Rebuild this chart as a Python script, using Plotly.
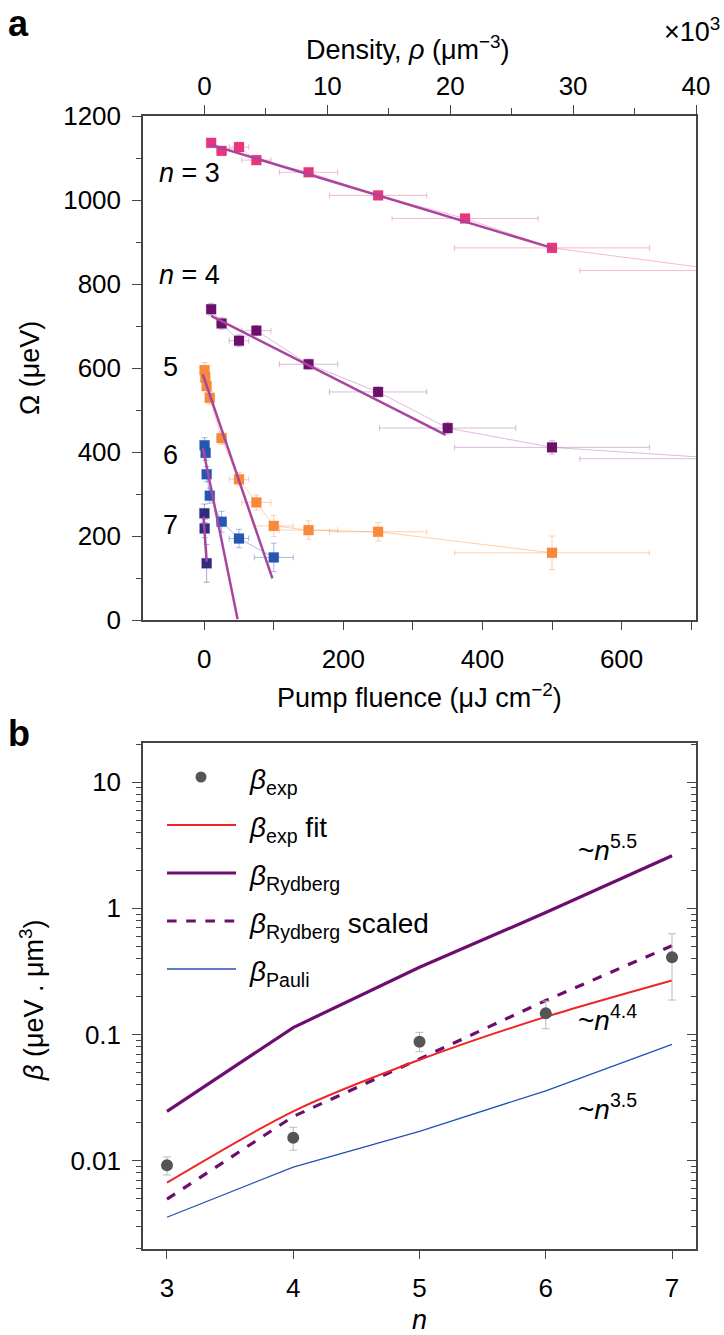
import math
import plotly.graph_objects as go

# ---------------- Panel a data ----------------
n3_fluence = [10, 25, 50, 75, 150, 250, 375, 500, 750]
n3_omega = [1136, 1117, 1126, 1095, 1066, 1011, 956, 886, 832]
n3_xerr = [3, 7, 14, 21, 42, 70, 105, 140, 210]
n3_yerr = [7, 7, 7, 7, 7, 7, 8, 8, 8]

n4_fluence = [10, 25, 50, 75, 150, 250, 350, 500, 750]
n4_omega = [740, 706, 665, 689, 609, 543, 457, 411, 384]
n4_xerr = [3, 7, 14, 21, 42, 70, 98, 140, 210]
n4_yerr = [14, 14, 14, 12, 12, 12, 14, 16, 16]

n5_fluence = [0.5, 1.5, 3.5, 8, 25, 50, 75, 100, 150, 250, 500]
n5_omega = [595, 577, 557, 529, 433, 335, 280, 224, 214, 210, 160]
n5_xerr = [0.2, 0.5, 1, 2.5, 7, 14, 21, 28, 42, 70, 140]
n5_yerr = [18, 15, 15, 15, 15, 16, 18, 25, 22, 22, 40]

n6_fluence = [0.5, 2, 3.5, 8, 25, 50, 100]
n6_omega = [416, 398, 347, 296, 234, 194, 149]
n6_xerr = [0.2, 0.6, 1, 2.5, 7, 14, 28]
n6_yerr = [18, 18, 18, 18, 25, 22, 34]

n7_fluence = [0.3, 0.6, 3.5]
n7_omega = [254, 218, 135]
n7_xerr = [0.1, 0.2, 1]
n7_yerr = [22, 22, 45]

fit3_fluence = [8, 500]
fit3_omega = [1132, 886]
fit4_fluence = [10, 347]
fit4_omega = [724, 441]
fit5_fluence = [-2, 98]
fit5_omega = [585, 99]
fit6_fluence = [-2, 48]
fit6_omega = [410, 2]
fit7_fluence = [-1, 3.5]
fit7_omega = [246, 139]

fluence_major = [0, 200, 400, 600]
fluence_minor = [100, 300, 500, 700]
omega_major = [0, 200, 400, 600, 800, 1000, 1200]
omega_minor = [100, 300, 500, 700, 900, 1100]
density_major = [0, 10, 20, 30, 40]
density_minor = [5, 15, 25, 35]

# ---------------- Panel b data ----------------
n_levels = [3, 4, 5, 6, 7]
beta_exp = [0.0092, 0.0152, 0.0875, 0.147, 0.409]
beta_exp_hi = [0.0107, 0.0184, 0.104, 0.184, 0.628]
beta_exp_lo = [0.0077, 0.0121, 0.073, 0.111, 0.1875]
beta_fit = [0.0067, 0.0246, 0.063, 0.138, 0.268]
beta_rydberg = [0.0246, 0.1135, 0.341, 0.925, 2.61]
beta_rydberg_scaled = [0.00496, 0.0224, 0.064, 0.186, 0.505]
beta_pauli = [0.00356, 0.0089, 0.0171, 0.0358, 0.0834]

beta_major = [0.01, 0.1, 1, 10]
beta_major_text = ["0.01", "0.1", "1", "10"]
beta_minor = [0.002, 0.003, 0.004, 0.005, 0.006, 0.007, 0.008, 0.009,
              0.02, 0.03, 0.04, 0.05, 0.06, 0.07, 0.08, 0.09,
              0.2, 0.3, 0.4, 0.5, 0.6, 0.7, 0.8, 0.9,
              2, 3, 4, 5, 6, 7, 8, 9, 20]

# scaling-law labels: (n position, beta value, text)
scaling_labels = [(6.24, 3.0, "~<i>n</i><sup>5.5</sup>"),
                  (6.24, 0.134, "~<i>n</i><sup>4.4</sup>"),
                  (6.24, 0.0266, "~<i>n</i><sup>3.5</sup>")]

# ---------------- Styles ----------------
FONT = "Liberation Sans, Arial, Helvetica, sans-serif"
W, H = 724, 1335
AX = "#444444"
TICKFONT = dict(family=FONT, size=26, color="black")

def px(x):
    return x / W

def py(y):
    return 1 - y / H

fig = go.Figure()

series = [
    (n3_fluence, n3_omega, n3_xerr, n3_yerr, "#E8357D", "rgba(232,53,125,0.35)", "n = 3"),
    (n4_fluence, n4_omega, n4_xerr, n4_yerr, "#6A0F6A", "rgba(150,60,150,0.35)", "n = 4"),
    (n5_fluence, n5_omega, n5_xerr, n5_yerr, "#F7893B", "rgba(247,137,59,0.40)", "n = 5"),
    (n6_fluence, n6_omega, n6_xerr, n6_yerr, "#2456B2", "rgba(36,86,178,0.40)", "n = 6"),
    (n7_fluence, n7_omega, n7_xerr, n7_yerr, "#2E2C80", "rgba(46,44,128,0.40)", "n = 7"),
]
for fx, fy, ex, ey, col, light, name in series:
    fig.add_trace(go.Scatter(
        x=fx, y=fy, mode="lines+markers", name=name, showlegend=False,
        xaxis="x", yaxis="y",
        line=dict(color=light, width=1),
        marker=dict(symbol="square", size=10, color=col,
                    line=dict(width=0.5, color=light)),
        error_x=dict(type="data", array=ex, color=light, thickness=1, width=3),
        error_y=dict(type="data", array=ey, color=light, thickness=1, width=3),
    ))

for fx, fy in [(fit3_fluence, fit3_omega), (fit4_fluence, fit4_omega),
               (fit5_fluence, fit5_omega), (fit6_fluence, fit6_omega),
               (fit7_fluence, fit7_omega)]:
    fig.add_trace(go.Scatter(x=fx, y=fy, mode="lines", showlegend=False,
                             xaxis="x", yaxis="y",
                             line=dict(color="#A8459E", width=2.5)))

# dummy trace for the density (top) axis
fig.add_trace(go.Scatter(x=[None], y=[None], xaxis="x3", yaxis="y",
                         showlegend=False, hoverinfo="skip"))

# ---------------- Panel b traces ----------------
err_plus = [h - v for h, v in zip(beta_exp_hi, beta_exp)]
err_minus = [v - l for v, l in zip(beta_exp, beta_exp_lo)]

fig.add_trace(go.Scatter(x=n_levels, y=beta_rydberg, mode="lines", showlegend=False,
                         xaxis="x2", yaxis="y2", line=dict(color="#6D0E6E", width=3.2)))
fig.add_trace(go.Scatter(x=n_levels, y=beta_rydberg_scaled, mode="lines", showlegend=False,
                         xaxis="x2", yaxis="y2",
                         line=dict(color="#6D0E6E", width=3.2, dash="dash")))
fig.add_trace(go.Scatter(x=n_levels, y=beta_fit, mode="lines", showlegend=False,
                         xaxis="x2", yaxis="y2",
                         line=dict(color="#EE2626", width=2, shape="spline", smoothing=0.8)))
fig.add_trace(go.Scatter(x=n_levels, y=beta_pauli, mode="lines", showlegend=False,
                         xaxis="x2", yaxis="y2", line=dict(color="#2152B0", width=1.3)))
fig.add_trace(go.Scatter(x=n_levels, y=beta_exp, mode="markers", showlegend=False,
                         xaxis="x2", yaxis="y2",
                         marker=dict(symbol="circle", size=12, color="#555555"),
                         error_y=dict(type="data", symmetric=False, array=err_plus,
                                      arrayminus=err_minus, color="#BBBBBB",
                                      thickness=1, width=4)))
fig.add_trace(go.Scatter(x=[None], y=[None], xaxis="x2", yaxis="y4",
                         showlegend=False, hoverinfo="skip"))

# ---------------- Layout ----------------
xdom = [px(143), px(696)]
ya_dom = [py(620), py(116)]
yb_dom = [py(1249), py(743)]

common = dict(showgrid=False, zeroline=False, automargin=False)

fig.update_layout(
    width=W, height=H,
    margin=dict(l=0, r=0, t=0, b=0, pad=0, autoexpand=False),
    paper_bgcolor="white", plot_bgcolor="white",
    font=dict(family=FONT, size=26, color="black"),
    showlegend=False,
    xaxis=dict(domain=xdom, anchor="y", range=[-88, 707],
               tickvals=fluence_major, ticks="outside", ticklen=8,
               tickwidth=1.2, tickcolor=AX, ticklabelstandoff=7,
               minor=dict(tickvals=fluence_minor, ticks="outside", ticklen=8,
                          tickwidth=1.2, tickcolor=AX),
               showline=True, linecolor=AX, linewidth=1.5,
               tickfont=TICKFONT, **common),
    xaxis3=dict(overlaying="x", side="top", anchor="y", range=[-5, 40],
                tickvals=density_major, ticks="outside", ticklen=9,
                tickwidth=1.2, tickcolor=AX, ticklabelstandoff=0,
                minor=dict(tickvals=density_minor, ticks="outside", ticklen=6,
                           tickwidth=1.2, tickcolor=AX),
                showline=True, linecolor=AX, linewidth=1.5,
                tickfont=TICKFONT, **common),
    yaxis=dict(domain=ya_dom, anchor="x", range=[0, 1200],
               tickvals=omega_major, ticks="outside", ticklen=9,
               tickwidth=1.2, tickcolor=AX, ticklabelstandoff=6,
               minor=dict(tickvals=omega_minor, ticks="outside", ticklen=5,
                          tickwidth=1.2, tickcolor=AX),
               showline=True, linecolor=AX, linewidth=1.5, mirror=True,
               tickfont=TICKFONT, **common),
    xaxis2=dict(domain=xdom, anchor="y2", range=[2.81, 7.19],
                tickvals=n_levels, ticks="outside", ticklen=8, tickwidth=1.2,
                tickcolor=AX, ticklabelstandoff=7,
                showline=True, linecolor=AX, linewidth=1.5,
                mirror=True, tickfont=TICKFONT, **common),
    yaxis2=dict(domain=yb_dom, anchor="x2", type="log", range=[-2.70, 1.31],
                tickvals=beta_major, ticktext=beta_major_text,
                ticks="outside", ticklen=9, tickwidth=1.2, tickcolor=AX,
                ticklabelstandoff=6,
                minor=dict(tickvals=beta_minor, ticks="outside", ticklen=5,
                           tickwidth=1.2, tickcolor=AX),
                showline=True, linecolor=AX, linewidth=1.5, mirror=True,
                tickfont=TICKFONT, **common),
    yaxis4=dict(overlaying="y2", side="right", anchor="x2", type="log",
                range=[-2.70, 1.31], tickvals=beta_major, showticklabels=False,
                ticks="inside", ticklen=9, tickwidth=1.2, tickcolor=AX,
                minor=dict(tickvals=beta_minor, ticks="inside", ticklen=5,
                           tickwidth=1.2, tickcolor=AX),
                showline=False, **common),
)

ann = []
def text(x, y, s, size=27, xanchor="center", yanchor="middle", angle=0, xref="paper", yref="paper"):
    ann.append(dict(x=x, y=y, xref=xref, yref=yref, text=s, showarrow=False,
                    xanchor=xanchor, yanchor=yanchor, textangle=angle,
                    font=dict(family=FONT, size=size, color="black")))

# panel letters
text(px(6), py(24), "<b>a</b>", size=36, xanchor="left")
text(px(6), py(733), "<b>b</b>", size=36, xanchor="left")

# panel a titles
text(px(408), py(48), "Density, <i>ρ</i> (μm<sup>−3</sup>)")
text(px(722), py(30), "×10<sup>3</sup>", xanchor="right")
text(px(30), py(368), "Ω (μeV)", angle=-90)
text(px(419), py(696), "Pump fluence (μJ cm<sup>−2</sup>)")

# n labels in panel a (data coords)
text(-68, 1065, "<i>n</i> = 3", size=27, xanchor="left", xref="x", yref="y")
text(-68, 822, "<i>n</i> = 4", size=27, xanchor="left", xref="x", yref="y")
text(-48, 602, "5", size=27, xref="x", yref="y")
text(-48, 394, "6", size=27, xref="x", yref="y")
text(-48, 227, "7", size=27, xref="x", yref="y")

# panel b titles
text(px(32), py(1000), "<i>β</i> (μeV . μm<sup>3</sup>)", angle=-90)
text(px(419), py(1320), "<i>n</i>")

# scaling labels (log axis -> annotation y in log10 units)
for xn, yb, s in scaling_labels:
    text(xn, math.log10(yb), s, size=28, xanchor="left", xref="x2", yref="y2")

# legend (manual, panel b)
leg_rows = [777, 825, 873, 921, 969]
leg_labels = ["<i>β</i><sub>exp</sub>", "<i>β</i><sub>exp</sub> fit",
              "<i>β</i><sub>Rydberg</sub>", "<i>β</i><sub>Rydberg</sub> scaled",
              "<i>β</i><sub>Pauli</sub>"]
for yrow, lab in zip(leg_rows, leg_labels):
    text(px(247), py(yrow + 4), lab, size=28, xanchor="left")

shapes = [
    dict(type="circle", xref="paper", yref="paper",
         x0=px(195.5), x1=px(206.5), y0=py(771.5), y1=py(782.5),
         fillcolor="#555555", line=dict(width=0)),
    dict(type="line", xref="paper", yref="paper", x0=px(167), x1=px(236),
         y0=py(825), y1=py(825), line=dict(color="#EE2626", width=2)),
    dict(type="line", xref="paper", yref="paper", x0=px(167), x1=px(236),
         y0=py(873), y1=py(873), line=dict(color="#6D0E6E", width=3.2)),
    dict(type="line", xref="paper", yref="paper", x0=px(167), x1=px(236),
         y0=py(921), y1=py(921), line=dict(color="#6D0E6E", width=3.2, dash="dash")),
    dict(type="line", xref="paper", yref="paper", x0=px(167), x1=px(236),
         y0=py(969), y1=py(969), line=dict(color="#2152B0", width=1.3)),
]

fig.update_layout(annotations=ann, shapes=shapes)
fig.write_html("out.html",
               config={"displayModeBar": False},
               post_script="document.body.style.margin='0px';"
                           "document.body.style.overflow='hidden';")
